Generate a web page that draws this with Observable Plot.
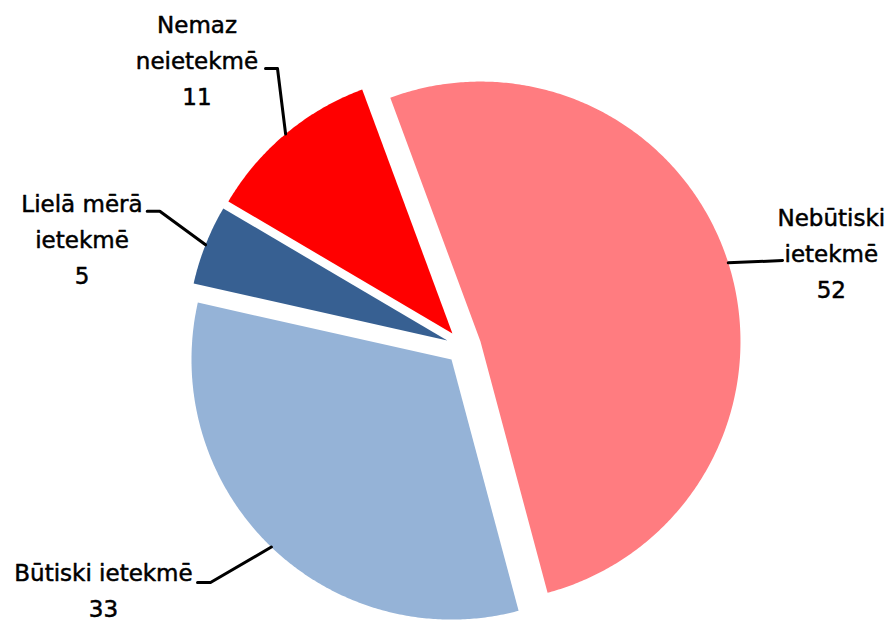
<!DOCTYPE html>
<html>
<head>
<meta charset="utf-8">
<script src="https://cdn.jsdelivr.net/npm/d3@7"></script>
<script src="https://cdn.jsdelivr.net/npm/@observablehq/plot@0.6"></script>
<style>
  html, body { margin: 0; padding: 0; background: #ffffff; }
  #chart svg { display: block; }
</style>
</head>
<body>
<div id="chart"></div>
<script>
// ---- data ----
const categories = ["Nebūtiski ietekmē", "Būtiski ietekmē", "Lielā mērā ietekmē", "Nemaz neietekmē"];
const values = [52, 33, 5, 11];
const colors = ["#FF7C80", "#95B3D7", "#376092", "#FF0000"];
const labelLines = [["Nebūtiski", "ietekmē"], ["Būtiski ietekmē"], ["Lielā mērā", "ietekmē"], ["Nemaz", "neietekmē"]];

// ---- layout (chart units: pie radius = 1, origin at pie centre) ----
const startAngleDeg = -20.3;
const explode = 17.6 / 260;
const labelElbow = [[1.2262, 0.3323], [-0.9738, -0.9062], [-1.1688, 0.5219], [-0.7162, 1.0708]];
const labelStub  = [[1.2262, 0.3323], [-1.0238, -0.9062], [-1.2173, 0.5219], [-0.7623, 1.0708]];
const labelAt    = [[1.4138, 0.1888], [-1.3854, -1.0396], [-1.4681, 0.2427], [-1.0258, 0.9312]];

const W = 892, H = 621, R = 260, CX = 463.2, CY = 346.4;

const start = startAngleDeg * Math.PI / 180;
const arcs = d3.pie().sort(null).value(d => d).startAngle(start).endAngle(start + 2 * Math.PI)(values);

const slicePts = [];
const leaderPts = [];
const labels = [];
arcs.forEach((a, i) => {
  const mid = (a.startAngle + a.endAngle) / 2;
  const cx = explode * Math.sin(mid), cy = explode * Math.cos(mid);
  const cat = categories[i];
  slicePts.push({cat, x: cx, y: cy});
  const n = Math.max(2, Math.ceil((a.endAngle - a.startAngle) / (Math.PI / 360)));
  for (let k = 0; k <= n; ++k) {
    const t = a.startAngle + (a.endAngle - a.startAngle) * k / n;
    slicePts.push({cat, x: cx + Math.sin(t), y: cy + Math.cos(t)});
  }
  leaderPts.push({cat, x: cx + Math.sin(mid), y: cy + Math.cos(mid)});
  leaderPts.push({cat, x: labelElbow[i][0], y: labelElbow[i][1]});
  leaderPts.push({cat, x: labelStub[i][0], y: labelStub[i][1]});
  labels.push({x: labelAt[i][0], y: labelAt[i][1], text: [...labelLines[i], String(values[i])].join("\n")});
});

const chart = Plot.plot({
  width: W,
  height: H,
  margin: 0,
  style: {background: "#ffffff", overflow: "visible"},
  x: {domain: [(0 - CX) / R, (W - CX) / R], range: [0, W], axis: null},
  y: {domain: [(CY - H) / R, CY / R], range: [H, 0], axis: null},
  color: {domain: categories, range: colors},
  marks: [
    Plot.line(slicePts, {x: "x", y: "y", z: "cat", fill: "cat", stroke: "none", curve: "linear"}),
    Plot.line(leaderPts, {x: "x", y: "y", z: "cat", stroke: "#000000", strokeWidth: 3, curve: "linear"}),
    Plot.text(labels, {
      x: "x", y: "y", text: "text",
      textAnchor: "middle", lineAnchor: "bottom", lineHeight: 36 / 23,
      fontSize: 23, fontFamily: "DejaVu Sans", fill: "#000000",
      stroke: "#000000", strokeWidth: 0.5
    })
  ]
});
document.getElementById("chart").appendChild(chart);
</script>
</body>
</html>
